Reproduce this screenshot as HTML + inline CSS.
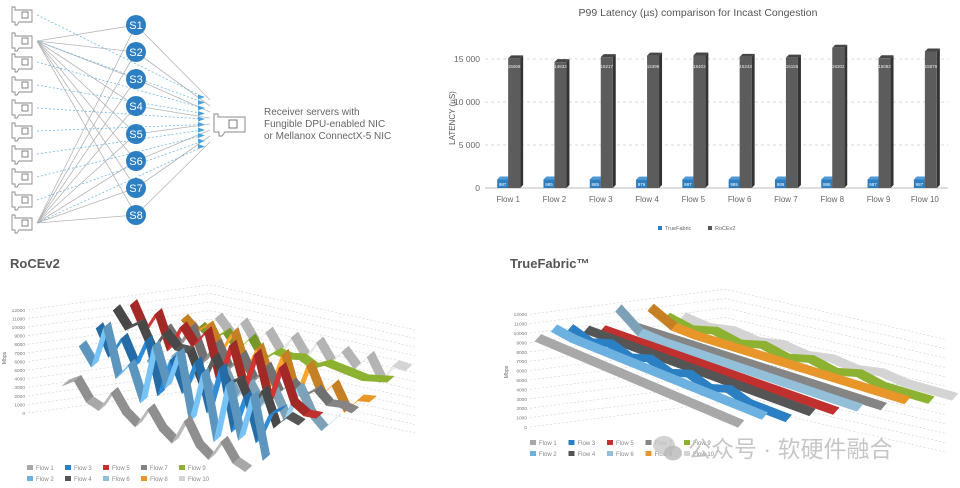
<!DOCTYPE html>
<html><head><meta charset="utf-8"><style>
html,body{margin:0;padding:0;background:#fff;width:960px;height:488px;overflow:hidden}
svg{display:block;font-family:"Liberation Sans","Noto Sans CJK SC",sans-serif}
</style></head><body>
<svg id="s" width="960" height="488" viewBox="0 0 960 488">
<g id="diagram"></g>
<g id="bar"></g>
<g id="roce"></g>
<g id="tf"></g>
<g>
<ellipse cx="664" cy="445" rx="11" ry="9" fill="#c8c8c8" opacity="0.8"/>
<ellipse cx="673" cy="453" rx="9" ry="7.5" fill="#b8b8b8" opacity="0.8"/>
<text x="688" y="457" font-size="23" fill="#bdbdbd" opacity="0.85">公众号 · 软硬件融合</text>
</g>
</svg>
<script>
// ---------- Bar chart data ----------
const flowCats = ["Flow 1","Flow 2","Flow 3","Flow 4","Flow 5","Flow 6","Flow 7","Flow 8","Flow 9","Flow 10"];
const rocev2Latency = [15069,14633,15217,15396,15403,15243,15155,16302,15082,15879];
const trueFabricLatency = [987,985,985,976,987,985,988,986,987,987];
const latencyTicks = [0,5000,10000,15000];
const latencyTickLabels = ["0","5 000","10 000","15 000"];

// ---------- 3D chart data ----------
const flowNames = ["Flow 1","Flow 2","Flow 3","Flow 4","Flow 5","Flow 6","Flow 7","Flow 8","Flow 9","Flow 10"];
const flowColors = ["#a8a8a8","#6cb1e0","#2b7fc3","#555555","#c0302e","#93bfd8","#858585","#e8962a","#8db232","#d4d4d4"];
const mbpsTicks = [0,1000,2000,3000,4000,5000,6000,7000,8000,9000,10000,11000,12000];
const roceFlow1 = [3500,4500,2500,2000,4500,2500,1500,4000,2000,1000,4000,1500,500,3000,1000,500];
const roceFlow2 = [8000,6000,11000,5500,7500,3500,10500,6000,10500,3000,9000,1500,8500,2500,8000,1000];
const roceFlow3 = [10000,7000,9500,6500,10000,4000,8500,5000,9000,3500,9000,2000,6500,1500,5000,6000];
const roceFlow4 = [12000,10000,11000,8000,10500,9000,9000,5500,9000,6000,7000,4000,6500,2500,4000,3500];
const roceFlow5 = [12500,9500,12000,8000,11000,9000,11000,5500,10000,5000,9500,4000,8500,4500,3500,3500];
const roceFlow6 = [6000,4000,7000,3500,5500,3000,6000,3000,5000,2500,4500,1500,5500,2500,1000,2500];
const roceFlow7 = [9500,7500,10000,6000,8500,5500,7500,4500,6500,3500,5000,3500,4500,3000,3000,2500];
const roceFlow8 = [10500,9000,10000,7000,9500,5000,8000,3500,7500,2500,6500,3000,4500,1500,3000,3000];
const roceFlow9 = [9500,8000,9000,7000,8500,6000,7000,6500,6500,5500,6000,5500,5000,4500,4500,4500];
const roceFlow10 = [10500,8500,10000,7500,9000,6500,8500,6000,8000,5500,7000,5000,6500,3500,5500,5000];
const tfFlow1 = [9000,9000,9000,9000,9000,9000,9000,9000,9000,9000,9000,9000];
const tfFlow2 = [10000,9700,9700,9700,9700,9700,9700,9700,9700,9700,9700,9700];
const tfFlow3 = [10000,9300,10000,9300,10000,9300,10000,9300,10000,9300,9300,9300];
const tfFlow4 = [9800,9800,9800,9800,9800,9800,9800,9800,9800,9800,9800,9800];
const tfFlow5 = [9800,9800,9800,9800,9800,9800,9800,9800,9800,9800,9800,9800];
const tfFlow6 = [12000,10200,10000,10000,10000,10000,10000,10000,10000,10000,10000,10000];
const tfFlow7 = [10000,10000,10000,10000,10000,10000,10000,10000,10000,10000,10000,10000];
const tfFlow8 = [12000,10700,10500,10500,10500,10500,10500,10500,10500,10500,10500,10500];
const tfFlow9 = [11000,10400,11000,10400,11000,10400,11000,10400,11000,10400,10400,10400];
const tfFlow10 = [11000,10600,11000,10600,11000,10600,11000,10600,11000,10600,10600,10600];

const NS="http://www.w3.org/2000/svg";
function mk(parent,tag,attrs,text){const e=document.createElementNS(NS,tag);for(const k in attrs)e.setAttribute(k,attrs[k]);if(text!==undefined)e.textContent=text;parent.appendChild(e);return e;}

// ---------- Diagram ----------
(function(){
 const g=document.getElementById('diagram');
 const srvY=[15,41,62,85,108,131,154,177,200,223];
 const swY=[25,52,79,106,134,161,188,215];
 const swX=136, rx=210;
 [41,223].forEach(sy=>swY.forEach(y=>{const l=mk(g,'line',{x1:37,y1:sy,x2:swX,y2:y,stroke:'#b5b5b5','stroke-width':0.8});
 }));
 swY.forEach((y,i)=>{const l=mk(g,'line',{x1:swX,y1:y,x2:rx,y2:100+i*6,stroke:'#b5b5b5','stroke-width':0.8});
 });
 srvY.forEach((y,i)=>{const ty=97+i*5.5;const l=mk(g,'line',{x1:37,y1:y,x2:203,y2:ty,stroke:'#6fb8e8','stroke-width':0.8,'stroke-dasharray':'2,2'});
 
 const a=mk(g,'polygon',{points:`${198},${ty-2.5} ${205},${ty} ${198},${ty+2.5}`,fill:'#4aa3dc'});
 });
 function nic(x,y,name){const gg=mk(g,'g',{});
  mk(gg,'path',{d:`M${x} ${y-8} h3 v3 h17 v12 h-13 l-2 3 h-2 v-3 h-3 z`,fill:'none',stroke:'#8a8a8a','stroke-width':0.9});
  mk(gg,'rect',{x:x+10,y:y-3,width:6,height:6,fill:'none',stroke:'#777','stroke-width':0.9});}
 srvY.forEach((y,i)=>nic(12,y,'sender-server-'+(i+1)));
 const rg=mk(g,'g',{});
 mk(rg,'path',{d:'M214 114 h4 v3 h27 v15 h-20 l-3 4 h-3 v-4 h-5 z',fill:'none',stroke:'#8a8a8a','stroke-width':1});
 mk(rg,'rect',{x:229,y:120,width:8,height:8,fill:'none',stroke:'#777','stroke-width':1});
 swY.forEach((y,i)=>{const c=mk(g,'g',{});
  mk(c,'circle',{cx:swX,cy:y,r:10,fill:'#2e7fc2'});mk(c,'text',{x:swX,y:y+4,'text-anchor':'middle','font-size':11,fill:'#fff'},'S'+(i+1));});
 const t=mk(g,'text',{x:264,y:115,'font-size':10,fill:'#666'});
 ["Receiver servers with","Fungible DPU-enabled NIC","or Mellanox ConnectX-5 NIC"].forEach((s,i)=>mk(t,'tspan',{x:264,dy:i?12:0},s));
})();

// ---------- Bar chart ----------
(function(){
 const g=document.getElementById('bar');
 const x0=485,x1=948,yBase=188,pxPer=43/5000;
 const yS=v=>yBase-v*pxPer;
 const band=(x1-x0)/flowCats.length;
 const t=mk(g,'text',{x:698,y:16,'text-anchor':'middle','font-size':10.5,fill:'#555'},'P99 Latency (µs) comparison for Incast Congestion');
 
 latencyTicks.forEach((v,i)=>{
  if(v>0){const l=mk(g,'line',{x1:x0,x2:x1,y1:yS(v),y2:yS(v),stroke:'#ccc','stroke-dasharray':'3,3','stroke-width':0.8});}
  const tl=mk(g,'text',{x:480,y:yS(v)+3,'text-anchor':'end','font-size':8.5,fill:'#666'},latencyTickLabels[i]);
  });
 const ax=mk(g,'line',{x1:x0,x2:x1,y1:yBase,y2:yBase,stroke:'#bbb'});
 const yt=mk(g,'text',{x:0,y:0,transform:'translate(455,118) rotate(-90)','text-anchor':'middle','font-size':8,fill:'#555'},'LATENCY (µS)');
 
 function bar3(x,w,v,front,top,side,name){
  const y=yS(v),d=3;const gg=mk(g,'g',{});
  mk(gg,'polygon',{points:`${x+w},${y} ${x+w+d},${y-d} ${x+w+d},${yBase-d} ${x+w},${yBase}`,fill:side});
  mk(gg,'polygon',{points:`${x},${y} ${x+d},${y-d} ${x+w+d},${y-d} ${x+w},${y}`,fill:top});
  mk(gg,'rect',{x:x,y:y,width:w,height:yBase-y,fill:front});
  return gg;}
 flowCats.forEach((c,i)=>{
  const cx=x0+band*(i+0.5);
  const a=bar3(cx-11,11,trueFabricLatency[i],'#2f7fc0','#4f9ad6','#1e5f96','bar-truefabric-'+(i+1));
  mk(a,'text',{x:cx-5.5,y:yBase-2,'text-anchor':'middle','font-size':4.5,fill:'#fff'},trueFabricLatency[i]);
  const b=bar3(cx,12,rocev2Latency[i],'#5c5c5c','#454545','#333','bar-rocev2-'+(i+1));
  mk(b,'text',{x:cx+6,y:yS(15000)+9,'text-anchor':'middle','font-size':4.5,fill:'#eee'},rocev2Latency[i]);
  const xl=mk(g,'text',{x:cx,y:202,'text-anchor':'middle','font-size':8,fill:'#666'},c);
  });
 [['TrueFabric','#2f7fc0',658],['RoCEv2','#555',708]].forEach(([n,col,x])=>{
  const lg=mk(g,'g',{});
  mk(lg,'rect',{x:x,y:226,width:4,height:4,fill:col});mk(lg,'text',{x:x+7,y:230,'font-size':5.5,fill:'#666'},n);});
})();

// ---------- 3D ribbon charts ----------
function shade(hex,f){const n=parseInt(hex.slice(1),16);let r=n>>16,g=(n>>8)&255,b=n&255;
 r=Math.min(255,Math.round(r*f));g=Math.min(255,Math.round(g*f));b=Math.min(255,Math.round(b*f));return `rgb(${r},${g},${b})`;}
function ribbonChart(gid,title,titleX,series,cfg){
 const g=document.getElementById(gid);
 const tt=mk(g,'text',{x:titleX,y:268,'font-size':13,'font-weight':'bold',fill:'#555'},title);
 
 mbpsTicks.forEach(v=>{
  const y=cfg.yZero-v*cfg.scale;
  const l=mk(g,'polyline',{points:`${cfg.axisX+3},${y} ${cfg.wallX},${y-cfg.wallRise} ${cfg.farX},${y-cfg.wallRise+cfg.farDrop}`,fill:'none',stroke:'#d0d0d0','stroke-width':0.6,'stroke-dasharray':'2,2'});
  
  const tl=mk(g,'text',{x:cfg.axisX,y:y+2,'text-anchor':'end','font-size':4.8,fill:'#777'},v);
  });
 const yt=mk(g,'text',{x:0,y:0,transform:`translate(${cfg.axisX-19},${cfg.yZero-55}) rotate(-90)`,'text-anchor':'middle','font-size':5,fill:'#666'},'Mbps');
 
 const K=series.length;
 function origin(u,k){const w=k/(K-1);
  const s=[cfg.A[0]+(cfg.B[0]-cfg.A[0])*u,cfg.A[1]+(cfg.B[1]-cfg.A[1])*u];
  const e=[cfg.C[0]+(cfg.E[0]-cfg.C[0])*u,cfg.C[1]+(cfg.E[1]-cfg.C[1])*u];
  return [s[0]+(e[0]-s[0])*w,s[1]+(e[1]-s[1])*w];}
 for(let k=K-1;k>=0;k--){
  const vals=series[k],n=vals.length;
  const sg=mk(g,'g',{});
  
  
  const pts=vals.map((v,i)=>{const o=origin(i/(n-1),k);return [o[0],o[1]-v*cfg.scale];});
  const dx=cfg.thick[0],dy=cfg.thick[1];
  for(let i=0;i<n-1;i++){
   const p=pts[i],q=pts[i+1];
   const slope=(q[1]-p[1])/(q[0]-p[0]+0.001);
   const f=slope>0.8?0.85:(slope<-0.8?1.1:1);
   mk(sg,'polygon',{points:`${p[0]},${p[1]} ${q[0]},${q[1]} ${q[0]+dx},${q[1]+dy} ${p[0]+dx},${p[1]+dy}`,fill:shade(flowColors[k],f),stroke:shade(flowColors[k],f),'stroke-width':0.5});
  }
 }
 flowNames.forEach((n,i)=>{
  const col=Math.floor(i/2),row=i%2;
  const x=cfg.legX+col*cfg.legDX,y=cfg.legY+row*11;
  const lg=mk(g,'g',{});
  mk(lg,'rect',{x:x,y:y-5,width:6,height:5,fill:flowColors[i]});
  mk(lg,'text',{x:x+9,y:y,'font-size':6,fill:'#888'},n);});
}
ribbonChart('roce','RoCEv2',10,[roceFlow1,roceFlow2,roceFlow3,roceFlow4,roceFlow5,roceFlow6,roceFlow7,roceFlow8,roceFlow9,roceFlow10],
 {yZero:413,scale:0.0086,axisX:25,wallX:210,wallRise:25,farX:415,farDrop:45,
  A:[62,416],B:[245,476],C:[215,409],E:[405,414],thick:[7,-6],legX:27,legDX:38,legY:470});
ribbonChart('tf','TrueFabric™',510,[tfFlow1,tfFlow2,tfFlow3,tfFlow4,tfFlow5,tfFlow6,tfFlow7,tfFlow8,tfFlow9,tfFlow10],
 {yZero:427,scale:0.0094,axisX:527,wallX:725,wallRise:25,farX:945,farDrop:50,
  A:[535,426],B:[738,512],C:[680,423],E:[952,500],thick:[6,-7],legX:530,legDX:38.5,legY:445});
</script>
</body></html>
